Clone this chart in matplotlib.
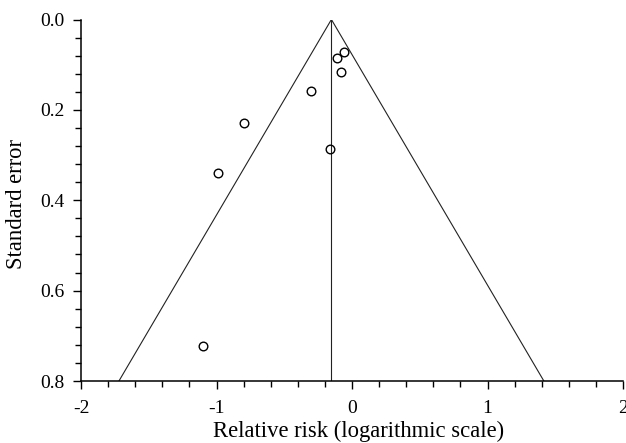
import matplotlib
matplotlib.use("Agg")
import matplotlib.pyplot as plt
import numpy as np
from matplotlib.ticker import MultipleLocator

# Study estimates (log relative risk) and standard errors
log_rr = [-0.06, -0.11, -0.08, -0.30, -0.80, -0.16, -0.99, -1.10]
std_err = [0.072, 0.085, 0.117, 0.158, 0.229, 0.287, 0.340, 0.722]
pooled = -0.152
z_crit = 1.96
se_max = 0.8

xticks = [-2, -1, 0, 1, 2]
yticks = [0.0, 0.2, 0.4, 0.6, 0.8]

plt.rcParams['font.family'] = ['Liberation Serif', 'DejaVu Serif']

fig = plt.figure(figsize=(6.26, 4.43), dpi=100)
ax = fig.add_axes([81/626, 1-381/443, (623-81)/626, (381-19.5)/443])

# funnel
se_line = np.array([0.0, se_max])
ax.plot(pooled - z_crit*se_line, se_line, color='#222222', lw=0.8)
ax.plot(pooled + z_crit*se_line, se_line, color='#222222', lw=0.8)
ax.plot([pooled, pooled], [0, se_max], color='#222222', lw=0.8)

ax.plot(log_rr, std_err, 'o', mfc='none', mec='black', ms=6.2, mew=1.0, clip_on=False)

ax.set_xlim(-2, 2)
ax.set_ylim(0.8, 0.0)
ax.set_xticks(xticks)
ax.set_xticklabels([str(t) for t in xticks])
ax.set_yticks(yticks)
ax.set_yticklabels([f"{t:.1f}" for t in yticks])
ax.xaxis.set_minor_locator(MultipleLocator(0.2))
ax.yaxis.set_minor_locator(MultipleLocator(0.04))

for s in ['top', 'right']:
    ax.spines[s].set_visible(False)
for s in ['left', 'bottom']:
    ax.spines[s].set_linewidth(1.1)

ax.tick_params(which='major', direction='out', length=6, width=1.0, labelsize=14)
ax.tick_params(axis='x', which='major', pad=8)
ax.tick_params(axis='y', which='major', pad=6)
ax.tick_params(which='minor', direction='out', length=4, width=1.0)

ax.set_xlabel('Relative risk (logarithmic scale)', fontsize=16.3)
ax.set_ylabel('Standard error', fontsize=16.3)
ax.xaxis.set_label_coords(0.513, -0.1106)
ax.yaxis.set_label_coords(-0.0995, 0.4896)

fig.savefig('out.png', dpi=100)
